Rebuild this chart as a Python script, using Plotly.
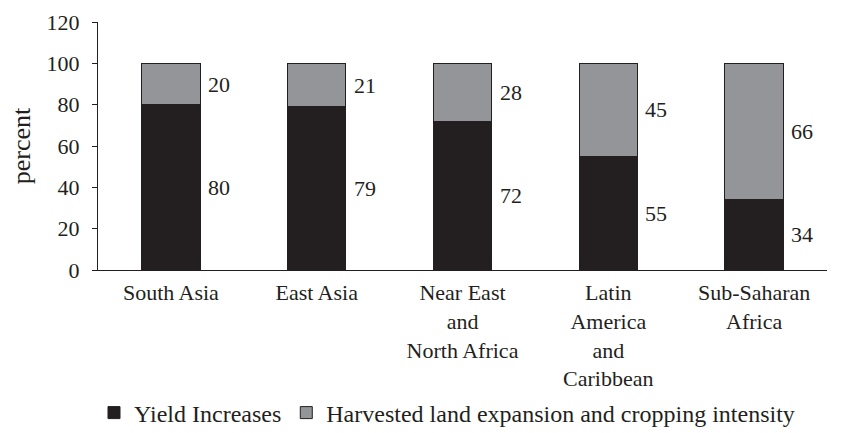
import plotly.graph_objects as go

regions = ["South Asia", "East Asia", "Near East<br>and<br>North Africa",
           "Latin<br>America<br>and<br>Caribbean", "Sub-Saharan<br>Africa"]
yield_increases = [80, 79, 72, 55, 34]
land_expansion = [20, 21, 28, 45, 66]
series_names = ["Yield Increases", "Harvested land expansion and cropping intensity"]
y_ticks = [0, 20, 40, 60, 80, 100, 120]

FONT = "Liberation Serif"
FS = 22
INK = "#231f20"
GRAY = "#939598"

fig = go.Figure()
fig.add_trace(go.Bar(x=regions, y=yield_increases, name=series_names[0],
                     marker=dict(color=INK, line=dict(color=INK, width=1))))
fig.add_trace(go.Bar(x=regions, y=land_expansion, name=series_names[1],
                     marker=dict(color=GRAY, line=dict(color=INK, width=1))))

# value labels beside each segment, centred on the segment
for r, a, b in zip(regions, yield_increases, land_expansion):
    for val, mid in ((a, a / 2), (b, a + b / 2)):
        fig.add_annotation(x=r, y=mid, text=str(val), showarrow=False,
                           xanchor="left", yanchor="middle", xshift=35,
                           font=dict(family=FONT, size=FS, color=INK))

fig.update_layout(
    barmode="stack",
    bargap=0.6,
    width=848, height=433,
    margin=dict(l=98, r=21, t=22, b=163),
    plot_bgcolor="white", paper_bgcolor="white",
    font=dict(family=FONT, size=FS, color=INK),
    showlegend=True,
    legend=dict(orientation="h", xref="container", x=94 / 848, xanchor="left",
                yref="container", y=1 - 413 / 433, yanchor="middle",
                font=dict(family=FONT, size=24, color=INK),
                traceorder="normal", itemwidth=30),
)
fig.update_yaxes(range=[0, 120], tickvals=y_ticks, showline=True, linecolor=INK,
                 linewidth=1, ticks="outside", ticklen=5, tickcolor=INK,
                 ticklabelstandoff=8,
                 showgrid=False, zeroline=False, automargin=False,
                 title=dict(text="percent", standoff=8))
fig.update_xaxes(showline=True, linecolor=INK, linewidth=1, ticks="",
                 ticklabelstandoff=3,
                 showgrid=False, automargin=False)

fig.write_html("out.html")
